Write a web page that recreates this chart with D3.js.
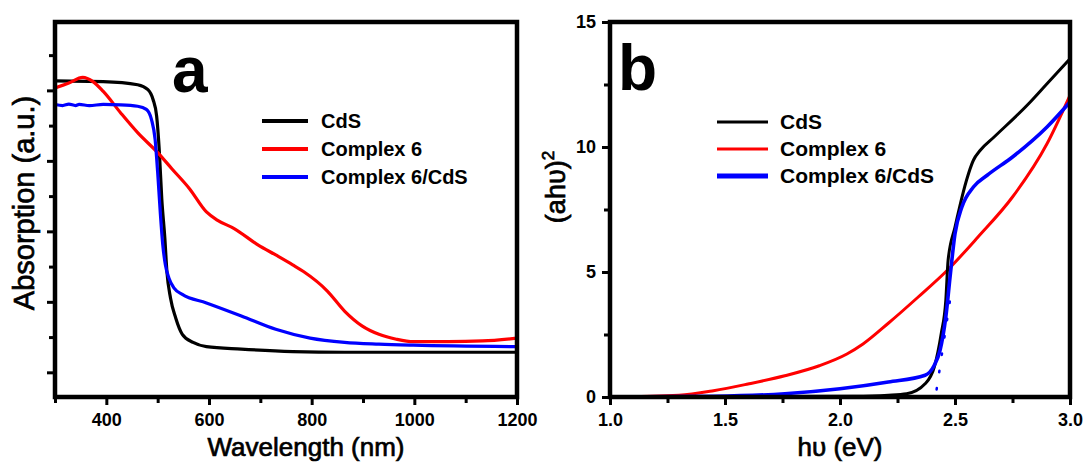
<!DOCTYPE html>
<html>
<head>
<meta charset="utf-8">
<script src="https://cdn.jsdelivr.net/npm/d3@7"></script>
<style>
  body { margin: 0; background: #fff; }
  svg { font-family: "Liberation Sans", Arial, sans-serif; }
  .title { stroke: #000; stroke-width: 0.7px; }
</style>
</head>
<body>
<div id="chart"></div>
<script>
// ---- panel a : absorption spectra (wavelength nm, a.u.) ----
var cdsA_wl   = [300, 394, 461, 481, 491, 498, 503, 508, 514, 518, 525, 535, 548, 569, 595, 663, 763, 864, 1200];
var cdsA_abs  = [9.27, 9.25, 9.16, 9.02, 8.74, 8.27, 7.33, 5.92, 4.80, 3.86, 3.11, 2.55, 2.08, 1.85, 1.73, 1.66, 1.59, 1.57, 1.57];
var cpxA_wl   = [300, 327, 354, 374, 394, 428, 461, 501, 528, 562, 595, 616, 649, 696, 730, 763, 784, 831, 864, 898, 931, 965, 998, 1066, 1133, 1200];
var cpxA_abs  = [9.07, 9.21, 9.37, 9.25, 8.97, 8.36, 7.80, 7.22, 6.77, 6.21, 5.55, 5.32, 5.08, 4.61, 4.33, 4.05, 3.86, 3.30, 2.74, 2.32, 2.08, 1.94, 1.87, 1.87, 1.89, 1.97];
var mixA_wl   = [300, 315, 327, 340, 347, 367, 394, 428, 461, 478, 488, 495, 500, 505, 510, 515, 522, 532, 548, 595, 663, 730, 797, 864, 931, 998, 1200];
var mixA_abs  = [8.60, 8.57, 8.61, 8.57, 8.60, 8.57, 8.60, 8.59, 8.55, 8.46, 8.17, 7.61, 6.67, 5.55, 4.61, 4.05, 3.67, 3.39, 3.21, 2.97, 2.60, 2.22, 1.97, 1.85, 1.80, 1.77, 1.73];
var xTicksA      = [400, 600, 800, 1000, 1200];
var xMinorTicksA = [300, 500, 700, 900, 1100];
var yTicksA      = [1, 3, 5, 7, 9];
var yMinorTicksA = [2, 4, 6, 8, 10];

// ---- panel b : Tauc plot (eV, (ahv)^2) ----
var cdsB_ev  = [1.0, 2.06, 2.21, 2.29, 2.37, 2.41, 2.44, 2.46, 2.47, 2.50, 2.52, 2.55, 2.58, 2.61, 2.67, 2.82, 2.90, 3.0];
var cdsB_val = [0, 0.03, 0.07, 0.13, 0.53, 1.2, 2.53, 3.87, 5.47, 6.8, 7.6, 8.67, 9.47, 9.87, 10.4, 11.73, 12.53, 13.53];
var cpxB_ev  = [1.0, 1.30, 1.45, 1.60, 1.76, 1.91, 2.03, 2.10, 2.21, 2.34, 2.47, 2.60, 2.75, 2.90, 3.0];
var cpxB_val = [0, 0.07, 0.25, 0.52, 0.85, 1.25, 1.72, 2.12, 2.95, 4.0, 5.1, 6.4, 8.0, 10.13, 12.07];
var mixB_ev  = [1.0, 1.45, 1.76, 2.0, 2.21, 2.37, 2.41, 2.435, 2.46, 2.48, 2.50, 2.53, 2.58, 2.64, 2.75, 2.90, 3.0];
var mixB_val = [0, 0.03, 0.13, 0.33, 0.6, 0.87, 1.27, 1.87, 3.2, 4.93, 6.53, 7.6, 8.4, 8.87, 9.6, 10.8, 11.8];
var fitB_ev  = [2.42, 2.487];
var fitB_val = [0.3, 4.4];
var xTicksB      = [1.0, 1.5, 2.0, 2.5, 3.0];
var xMinorTicksB = [1.25, 1.75, 2.25, 2.75];
var yTicksB      = [0, 5, 10, 15];
var yMinorTicksB = [2.5, 7.5, 12.5];

var seriesNames = ["CdS", "Complex 6", "Complex 6/CdS"];
var seriesColors = ["#000000", "#ff0000", "#0000ff"];

var svg = d3.select("#chart").append("svg")
    .attr("width", 1089)
    .attr("height", 466);

function zip(xs, ys) { return xs.map(function(x, i) { return [x, ys[i]]; }); }

function drawPanel(opt) {
  var x = d3.scaleLinear().domain(opt.xDomain).range([opt.left, opt.right]);
  var y = d3.scaleLinear().domain(opt.yDomain).range([opt.bottom, opt.top]);

  var clipId = "clip-" + opt.key;
  svg.append("clipPath").attr("id", clipId)
    .append("rect")
      .attr("x", opt.left).attr("y", opt.top)
      .attr("width", opt.right - opt.left).attr("height", opt.bottom - opt.top);

  // bottom ticks
  var gx = svg.append("g").attr("transform", "translate(0," + opt.bottom + ")")
    .call(d3.axisBottom(x).tickValues(opt.xTicks).tickSize(8).tickPadding(8).tickFormat(opt.xFormat));
  var gxm = svg.append("g").attr("transform", "translate(0," + opt.bottom + ")")
    .call(d3.axisBottom(x).tickValues(opt.xMinor).tickSize(6).tickFormat(""));
  // left ticks
  var gy = svg.append("g").attr("transform", "translate(" + opt.left + ",0)")
    .call(d3.axisLeft(y).tickValues(opt.yTicks).tickSize(8).tickPadding(6).tickFormat(opt.yFormat));
  var gym = svg.append("g").attr("transform", "translate(" + opt.left + ",0)")
    .call(d3.axisLeft(y).tickValues(opt.yMinor).tickSize(6).tickFormat(""));

  [gx, gxm, gy, gym].forEach(function(g) {
    g.select(".domain").remove();
    g.selectAll(".tick line").attr("stroke", "#000").attr("stroke-width", 3);
    g.selectAll(".tick text")
      .attr("fill", "#000")
      .style("font-size", "18px")
      .style("font-weight", "bold");
  });

  var line = d3.line()
    .x(function(d) { return x(d[0]); })
    .y(function(d) { return y(d[1]); })
    .curve(d3.curveMonotoneX);

  var plot = svg.append("g").attr("clip-path", "url(#" + clipId + ")");
  opt.series.forEach(function(s) {
    plot.append("path")
      .datum(s.data)
      .attr("fill", "none")
      .attr("stroke", s.color)
      .attr("stroke-width", s.width)
      .attr("stroke-linejoin", "round")
      .attr("stroke-linecap", "round")
      .attr("stroke-dasharray", s.dash || null)
      .attr("d", line);
  });

  // frame
  svg.append("rect")
    .attr("x", opt.left).attr("y", opt.top)
    .attr("width", opt.right - opt.left).attr("height", opt.bottom - opt.top)
    .attr("fill", "none").attr("stroke", "#000").attr("stroke-width", 4.5);

  // panel letter
  svg.append("text")
    .attr("x", opt.letterX).attr("y", opt.letterY)
    .style("font-size", "64px").style("font-weight", "bold")
    .text(opt.letter);

  // legend
  var lg = svg.append("g");
  seriesNames.forEach(function(name, i) {
    var yy = opt.legY[i];
    lg.append("line")
      .attr("x1", opt.legX1).attr("x2", opt.legX2)
      .attr("y1", yy).attr("y2", yy)
      .attr("stroke", seriesColors[i])
      .attr("stroke-width", opt.legWidth[i]);
    lg.append("text")
      .attr("x", opt.legTextX).attr("y", yy + 7)
      .style("font-size", opt.legFont + "px").style("font-weight", "bold")
      .text(name);
  });

  return { x: x, y: y };
}

// panel a
drawPanel({
  key: "a",
  left: 55, right: 517, top: 22, bottom: 397,
  xDomain: [300, 1200], yDomain: [0.3, 10.94],
  xTicks: xTicksA, xMinor: xMinorTicksA, yTicks: yTicksA, yMinor: yMinorTicksA,
  xFormat: d3.format("d"), yFormat: function() { return ""; },
  series: [
    { data: zip(cdsA_wl, cdsA_abs), color: seriesColors[0], width: 3.2 },
    { data: zip(cpxA_wl, cpxA_abs), color: seriesColors[1], width: 3.2 },
    { data: zip(mixA_wl, mixA_abs), color: seriesColors[2], width: 3.2 }
  ],
  letter: "a", letterX: 172, letterY: 92,
  legX1: 262, legX2: 308, legTextX: 321, legY: [121, 149, 177],
  legWidth: [4, 4, 4], legFont: 20
});

// panel b
drawPanel({
  key: "b",
  left: 610, right: 1070, top: 22, bottom: 397,
  xDomain: [1, 3], yDomain: [0, 15],
  xTicks: xTicksB, xMinor: xMinorTicksB, yTicks: yTicksB, yMinor: yMinorTicksB,
  xFormat: d3.format(".1f"), yFormat: d3.format("d"),
  series: [
    { data: zip(fitB_ev, fitB_val), color: seriesColors[2], width: 2.5, dash: "1.5,16" },
    { data: zip(cpxB_ev, cpxB_val), color: seriesColors[1], width: 3 },
    { data: zip(cdsB_ev, cdsB_val), color: seriesColors[0], width: 3 },
    { data: zip(mixB_ev, mixB_val), color: seriesColors[2], width: 3.6 }
  ],
  letter: "b", letterX: 618, letterY: 90,
  legX1: 717, legX2: 768, legTextX: 780, legY: [122, 149, 176],
  legWidth: [3, 3, 5], legFont: 21
});

// axis titles (semi-bold look: regular face with a thin outline)
svg.append("text")
  .attr("class", "title")
  .attr("x", 306).attr("y", 456)
  .attr("text-anchor", "middle")
  .style("font-size", "26px")
  .text("Wavelength (nm)");

svg.append("text")
  .attr("class", "title")
  .attr("x", 840).attr("y", 456)
  .attr("text-anchor", "middle")
  .style("font-size", "26px")
  .text("hυ (eV)");

svg.append("text")
  .attr("class", "title")
  .attr("transform", "translate(34,203) rotate(-90)")
  .attr("text-anchor", "middle")
  .style("font-size", "29px")
  .text("Absorption (a.u.)");

var yt = svg.append("text")
  .attr("class", "title")
  .attr("transform", "translate(565,187) rotate(-90)")
  .attr("text-anchor", "middle")
  .style("font-size", "27px");
yt.append("tspan").text("(ahυ)");
yt.append("tspan").attr("dy", -11).style("font-size", "17px").text("2");
</script>
</body>
</html>
